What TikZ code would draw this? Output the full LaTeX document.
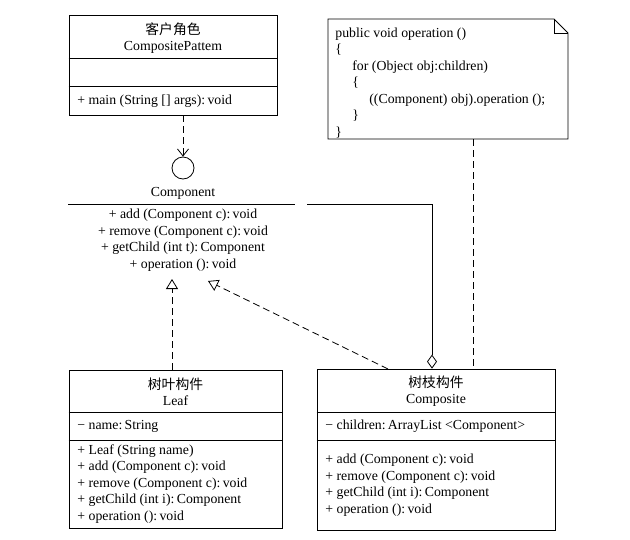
\documentclass[tikz,border=0pt]{standalone}
\usepackage{fontspec}
\setmainfont{Liberation Serif}
\newfontfamily\cjk{Noto Sans CJK SC}
\usetikzlibrary{arrows.meta}
\tikzset{
    classbox/.style={draw, inner sep=0pt},
    txt/.style={inner sep=0pt, font=\fontsize{13.8}{16.5}\selectfont},
    titletxt/.style={txt, align=center},
    dashline/.style={dash pattern=on 7pt off 4pt},
    dep/.style={dashline, -{Straight Barb[length=7pt,width=11pt]}},
    real/.style={dashline, -{Triangle[open,length=10pt,width=12pt]}},
    agg/.style={{Diamond[open,length=14pt,width=10pt]}-},
}

\begin{document}
\begin{tikzpicture}[x=1pt, y=-1pt, line width=0.8pt]
    \useasboundingbox (0,0) rectangle (630,539);
    % client
    \node [classbox, minimum width=208pt, minimum height=100pt] (client) at (173,65) {};
    \draw (client.west |- 0,58) -- (client.east |- 0,58);
    \draw (client.west |- 0,86) -- (client.east |- 0,86);
    \node [titletxt] (clienttitle) at (173,38) {{\cjk 客户角色}\\CompositePattem};
    \node [txt, anchor=west] (clientop) at (77,101) {+ main (String [] args):\,void};
    % note
    \draw (328,19) -- (554,19) -- (568,33) -- (568,139) -- (328,139) -- cycle;
    \draw (554,19) -- (554,33) -- (568,33);
    \coordinate (notefoot) at (473,139);
    \node [txt, anchor=west, align=left] (code) at (335,83) {public void operation ()\\
        \{\\
        \hspace{17pt}for (Object obj:children)\\
        \hspace{17pt}\{\\
        \hspace{34pt}((Component) obj).operation ();\\
        \hspace{17pt}\}\\
        \}};
    % interface
    \node [draw, circle, minimum size=22pt, inner sep=0pt] (iface) at (183,168) {};
    \node [txt] (ifacename) at (183,193) {Component};
    \draw (68,204) -- (295,204);
    \node [titletxt] (ops) at (183,240) {+ add (Component c):\,void\\
        + remove (Component c):\,void\\
        + getChild (int t):\,Component\\
        + operation ():\,void};
    % leaf
    \node [classbox, minimum width=213pt, minimum height=158pt] (leaf) at (175.5,449) {};
    \draw (leaf.west |- 0,412) -- (leaf.east |- 0,412);
    \draw (leaf.west |- 0,440) -- (leaf.east |- 0,440);
    \node [titletxt] (leaftitle) at (175.5,392) {{\cjk 树叶构件}\\Leaf};
    \node [txt, anchor=west] (leafattr) at (77,426) {− name:\,String};
    \node [txt, anchor=west, align=left] (leafops) at (77,484) {+ Leaf (String name)\\
        + add (Component c):\,void\\
        + remove (Component c):\,void\\
        + getChild (int i):\,Component\\
        + operation ():\,void};
    % composite
    \node [classbox, minimum width=238pt, minimum height=161pt] (comp) at (436,449.5) {};
    \draw (comp.west |- 0,412) -- (comp.east |- 0,412);
    \draw (comp.west |- 0,440) -- (comp.east |- 0,440);
    \node [titletxt] (comptitle) at (436,391) {{\cjk 树枝构件}\\Composite};
    \node [txt, anchor=west] (compattr) at (325,426) {− children:\,ArrayList <Component>};
    \node [txt, anchor=west, align=left] (compops) at (325,485) {+ add (Component c):\,void\\
        + remove (Component c):\,void\\
        + getChild (int i):\,Component\\
        + operation ():\,void};
    % connectors
    \draw [dep] (client.south -| iface) -- (iface.north);
    \coordinate (leaftip) at (172,279);
    \draw [real] (leaf.north -| leaftip) -- (leaftip);
    \coordinate (comptip) at (208,281);
    \coordinate (compfoot) at (388,369);
    \draw [real] (compfoot) -- (comptip);
    \coordinate (aggturn) at (432,204);
    \coordinate (aggend) at (307,204);
    \draw [agg] (comp.north -| aggturn) -- (aggturn) -- (aggend);
    \draw [dashline] (notefoot) -- (comp.north -| notefoot);
\end{tikzpicture}
\end{document}
